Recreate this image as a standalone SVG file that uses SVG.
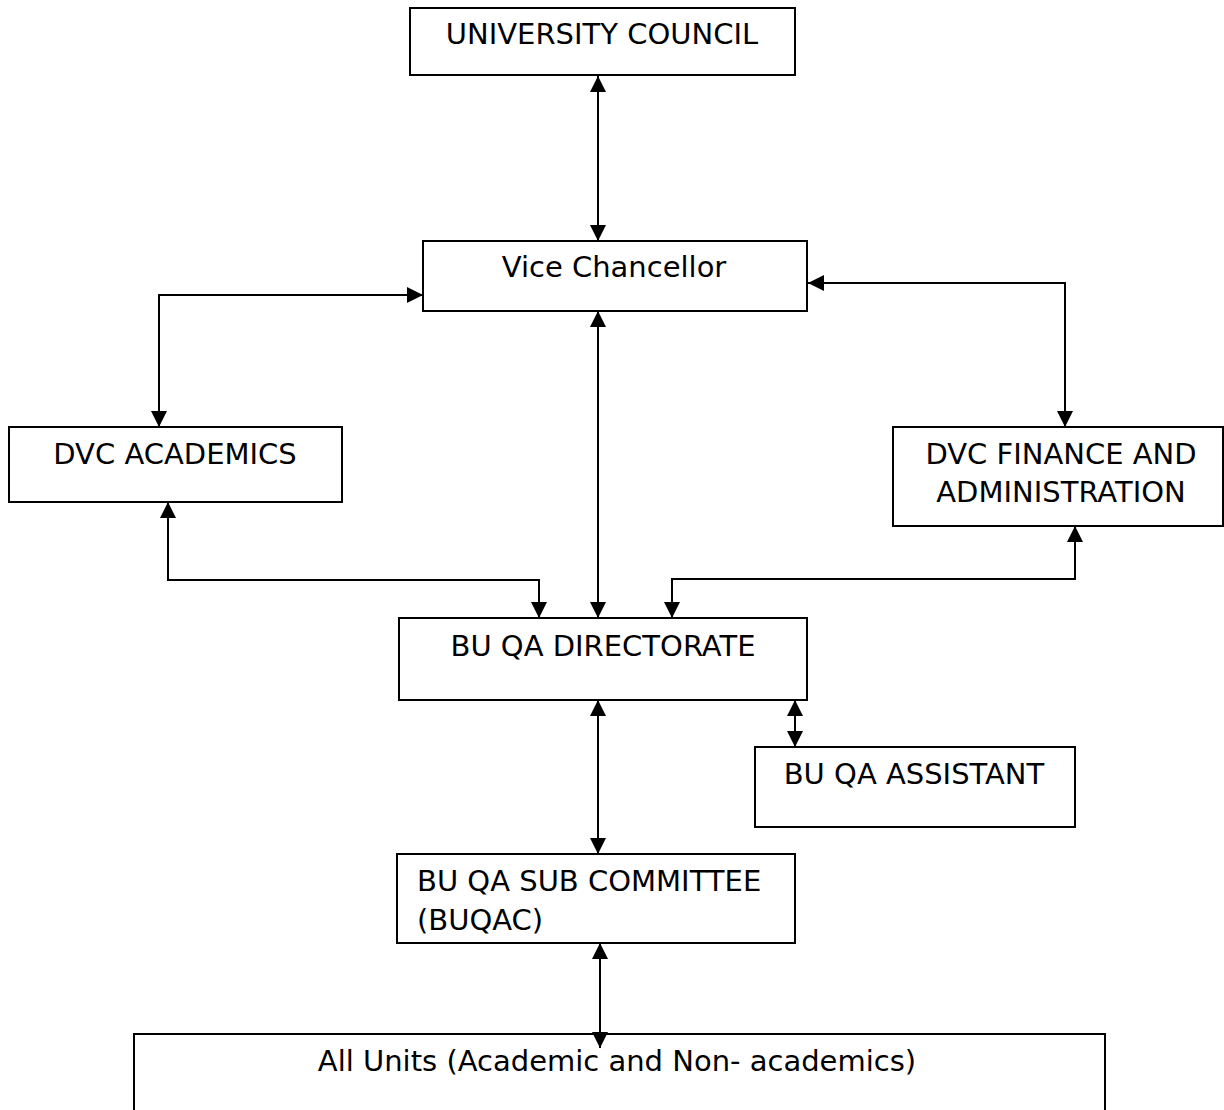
<svg xmlns="http://www.w3.org/2000/svg" width="1224" height="1110" viewBox="0 0 1224 1110">
<style>
.box{fill:#fff;stroke:#000;stroke-width:2}
.t{font-family:"DejaVu Sans",sans-serif;font-size:29px;fill:#000}
.c{text-anchor:middle}
.ln{fill:none;stroke:#000;stroke-width:2}
</style>
<defs>
<marker id="ah" markerUnits="userSpaceOnUse" markerWidth="16" markerHeight="16" viewBox="0 0 16 16" refX="16" refY="8" orient="auto-start-reverse">
<path d="M0,0 L16,8 L0,16 Z" fill="#000"/>
</marker>
</defs>
<rect width="1224" height="1110" fill="#fff"/>
<g id="connectors">
<line class="ln" x1="598" y1="76" x2="598" y2="241" marker-start="url(#ah)" marker-end="url(#ah)"/>
<polyline class="ln" points="423,295 159,295 159,427" marker-start="url(#ah)" marker-end="url(#ah)"/>
<polyline class="ln" points="808,283 1065,283 1065,427" marker-start="url(#ah)" marker-end="url(#ah)"/>
<line class="ln" x1="598" y1="311" x2="598" y2="618" marker-start="url(#ah)" marker-end="url(#ah)"/>
<polyline class="ln" points="168,502 168,580 539,580 539,618" marker-start="url(#ah)" marker-end="url(#ah)"/>
<polyline class="ln" points="1075,526 1075,579 672,579 672,618" marker-start="url(#ah)" marker-end="url(#ah)"/>
<line class="ln" x1="795" y1="700" x2="795" y2="747" marker-start="url(#ah)" marker-end="url(#ah)"/>
<line class="ln" x1="598" y1="700" x2="598" y2="854" marker-start="url(#ah)" marker-end="url(#ah)"/>
</g>
<g id="n1"><rect class="box" x="410" y="8" width="385" height="67"/><text class="t c" x="602" y="44">UNIVERSITY COUNCIL</text></g>
<g id="n2"><rect class="box" x="423" y="241" width="384" height="70"/><text class="t c" x="614" y="277">Vice Chancellor</text></g>
<g id="n3"><rect class="box" x="9" y="427" width="333" height="75"/><text class="t c" x="175" y="464">DVC ACADEMICS</text></g>
<g id="n4"><rect class="box" x="893" y="427" width="330" height="99"/><text class="t c" x="1061" y="464">DVC FINANCE AND</text><text class="t c" x="1061" y="502">ADMINISTRATION</text></g>
<g id="n5"><rect class="box" x="399" y="618" width="408" height="82"/><text class="t c" x="603" y="656">BU QA DIRECTORATE</text></g>
<g id="n6"><rect class="box" x="755" y="747" width="320" height="80"/><text class="t c" x="914" y="784">BU QA ASSISTANT</text></g>
<g id="n7"><rect class="box" x="397" y="854" width="398" height="89"/><text class="t" x="417" y="891">BU QA SUB COMMITTEE</text><text class="t" x="417" y="930">(BUQAC)</text></g>
<g id="n8"><rect class="box" x="134" y="1034" width="971" height="90"/><text class="t c" x="617" y="1071">All Units (Academic and Non- academics)</text></g>
<g id="connectors2">
<line class="ln" x1="600" y1="943" x2="600" y2="1048" marker-start="url(#ah)" marker-end="url(#ah)"/>
</g>
</svg>
